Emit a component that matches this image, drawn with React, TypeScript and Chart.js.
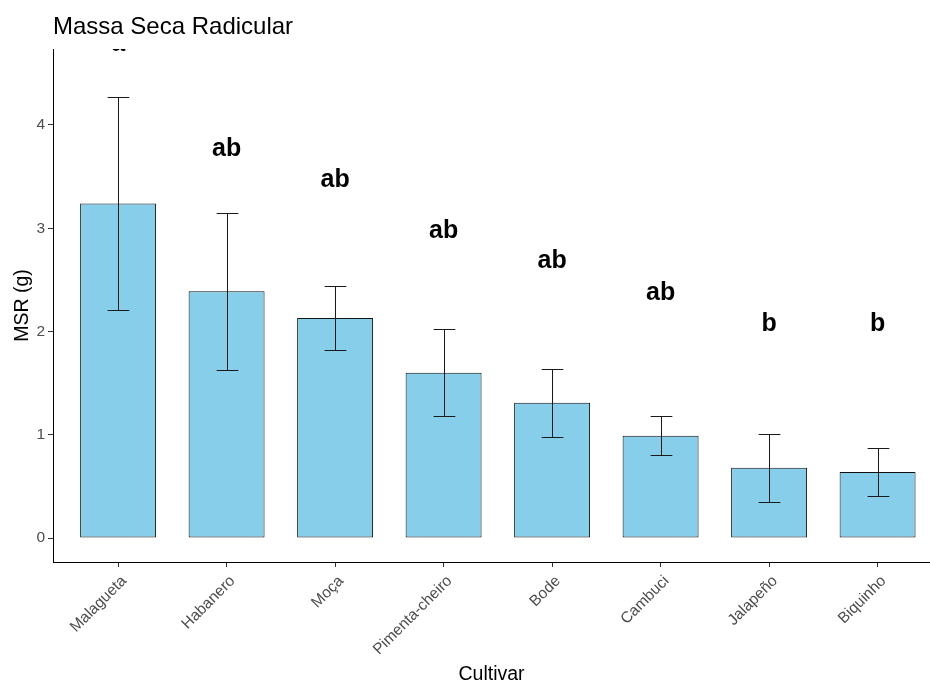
import React, { useEffect, useRef } from "react";
import { Chart, registerables } from "chart.js";

Chart.register(...registerables);

const categories = ["Malagueta", "Habanero", "Moça", "Pimenta-cheiro", "Bode", "Cambuci", "Jalapeño", "Biquinho"];
const msrMean = [3.24, 2.39, 2.13, 1.6, 1.31, 0.99, 0.68, 0.64];
const msrSE = [1.03, 0.76, 0.31, 0.42, 0.33, 0.19, 0.33, 0.23];
const letters = ["a", "ab", "ab", "ab", "ab", "ab", "b", "b"];
const letterY = [4.78, 3.77, 3.47, 2.97, 2.68, 2.37, 2.07, 2.07];
const yTicks = [0, 1, 2, 3, 4];

const FONT = '"Liberation Sans", Arial, sans-serif';

const annotPlugin = {
  id: "annot",
  afterDatasetsDraw(chart: any) {
    const { ctx, chartArea, scales } = chart;
    const x = scales.x;
    const y = scales.y;
    ctx.save();
    ctx.beginPath();
    ctx.rect(chartArea.left, chartArea.top, chartArea.right - chartArea.left, chartArea.bottom - chartArea.top);
    ctx.clip();
    ctx.strokeStyle = "#1a1a1a";
    ctx.lineWidth = 1;
    msrMean.forEach((m, i) => {
      const cx = Math.round(x.getPixelForValue(i)) + 0.5;
      const hw = x.getPixelForValue(i + 0.1) - x.getPixelForValue(i);
      const yt = Math.round(y.getPixelForValue(m + msrSE[i])) + 0.5;
      const yb = Math.round(y.getPixelForValue(m - msrSE[i])) + 0.5;
      ctx.beginPath();
      ctx.moveTo(cx, yt);
      ctx.lineTo(cx, yb);
      ctx.moveTo(cx - hw, yt);
      ctx.lineTo(cx + hw, yt);
      ctx.moveTo(cx - hw, yb);
      ctx.lineTo(cx + hw, yb);
      ctx.stroke();
    });
    ctx.fillStyle = "#000";
    ctx.font = `bold 25px ${FONT}`;
    ctx.textAlign = "center";
    ctx.textBaseline = "middle";
    letters.forEach((l, i) => {
      ctx.fillText(l, x.getPixelForValue(i), y.getPixelForValue(letterY[i]));
    });
    ctx.restore();
  },
};

export default function App() {
  const ref = useRef<HTMLCanvasElement | null>(null);
  useEffect(() => {
    if (!ref.current) return;
    const chart = new Chart(ref.current, {
      type: "bar",
      data: {
        datasets: [
          {
            data: msrMean.map((v, i) => ({ x: i, y: v })),
            backgroundColor: "#87CEEB",
            borderColor: "#111",
            borderWidth: 1,
            borderSkipped: false,
            categoryPercentage: 1,
            barPercentage: 0.7,
          },
        ],
      },
      options: {
        responsive: false,
        devicePixelRatio: 1,
        animation: false,
        layout: { padding: 0 },
        plugins: {
          legend: { display: false },
          tooltip: { enabled: false },
          title: {
            display: true,
            text: "Massa Seca Radicular",
            align: "start",
            fullSize: false,
            color: "#000",
            font: { size: 24, family: FONT, weight: "normal", lineHeight: 1.2 },
            padding: { top: 13, bottom: 7.2 },
          },
        },
        scales: {
          x: {
            type: "linear",
            min: -0.6,
            max: 7.483,
            offset: false,
            afterBuildTicks: (s: any) => {
              s.ticks = categories.map((_, i) => ({ value: i }));
            },
            afterFit: (s: any) => {
              s.height = 119;
            },
            grid: { display: true, drawOnChartArea: false, drawTicks: true, tickLength: 5, color: "#333", offset: false },
            border: { display: true, color: "#000", width: 1 },
            ticks: {
              callback: (v: any) => categories[v] ?? "",
              minRotation: 45,
              maxRotation: 45,
              autoSkip: false,
              color: "#4d4d4d",
              padding: 5,
              labelOffset: 6,
              font: { size: 15.5, family: FONT },
            },
            title: {
              display: true,
              text: "Cultivar",
              color: "#000",
              font: { size: 19.5, family: FONT, lineHeight: 0.7 },
              padding: { top: 0, bottom: 0 },
            },
          },
          y: {
            type: "linear",
            min: -0.2324,
            max: 4.736,
            afterBuildTicks: (s: any) => {
              s.ticks = yTicks.map((v) => ({ value: v }));
            },
            afterFit: (s: any) => {
              s.width = 53;
            },
            grid: { display: true, drawOnChartArea: false, drawTicks: true, tickLength: 5, color: "#333" },
            border: { display: true, color: "#000", width: 1 },
            ticks: {
              color: "#4d4d4d",
              padding: 3,
              font: { size: 15.5, family: FONT },
            },
            title: {
              display: true,
              text: "MSR (g)",
              color: "#000",
              font: { size: 19.5, family: FONT, lineHeight: 1.2 },
              padding: { top: 11, bottom: 0 },
            },
          },
        },
      } as any,
      plugins: [annotPlugin],
    });
    return () => chart.destroy();
  }, []);
  return (
    <div style={{ position: "absolute", left: 0, top: 0, width: 930, height: 681, background: "#fff" }}>
      <canvas ref={ref} width={930} height={681} style={{ display: "block" }} />
    </div>
  );
}
